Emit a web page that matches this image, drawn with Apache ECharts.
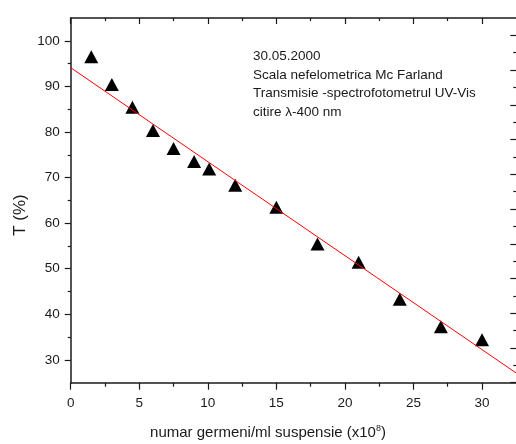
<!DOCTYPE html>
<html>
<head>
<meta charset="utf-8">
<script src="https://cdn.jsdelivr.net/npm/echarts@6/dist/echarts.min.js"></script>
<style>
html,body{margin:0;padding:0;background:#fff;}
#c{width:516px;height:444px;}
</style>
</head>
<body>
<div id="c"></div>
<script>
// ---- data ----
var cellCount = [1.5, 3, 4.5, 6, 7.5, 9, 10.1, 12, 15, 18, 21, 24, 27, 30];
var transmission = [96.5, 90.4, 85.4, 80.3, 76.4, 73.5, 71.9, 68.3, 63.5, 55.4, 51.4, 43.3, 37.3, 34.4];
var fitLine = [[0, 94.1], [32.5, 27.1]];
var xMajorTicks = [0, 5, 10, 15, 20, 25, 30];
var xMinorTicks = [2.5, 7.5, 12.5, 17.5, 22.5, 27.5];
var yMajorTicks = [30, 40, 50, 60, 70, 80, 90, 100];
var yMinorTicks = [35, 45, 55, 65, 75, 85, 95];
var rightMajorTicks = [0, 1, 2, 3, 4, 5, 6, 7, 8, 9, 10];
var rightMinorTicks = [0.5, 1.5, 2.5, 3.5, 4.5, 5.5, 6.5, 7.5, 8.5, 9.5];
var noteLines = ['30.05.2000', 'Scala nefelometrica Mc Farland', 'Transmisie -spectrofotometrul UV-Vis', 'citire \u03bb-400 nm'];
var xTitle = 'numar germeni/ml suspensie (x10';
var xTitleSup = '8';
var yTitle = 'T (%)';

var FONT = '"Liberation Sans", Arial, sans-serif';
var TXT = '#1a1a1a';
var AX = '#1a1a1a';

var pairs = cellCount.map(function (x, i) { return [x, transmission[i]]; });

function xAx(pos, ticks, len, inside, showLine, showLabels) {
  return {
    type: 'value', position: pos, min: 0, max: 32.5,
    axisLine: { show: showLine, onZero: false, lineStyle: { color: AX, width: 1.5 } },
    axisTick: { show: true, inside: inside, length: len, customValues: ticks, lineStyle: { color: AX, width: 1.2 } },
    axisLabel: { show: showLabels, customValues: ticks, margin: 14, color: TXT, fontSize: 13.5, fontFamily: FONT },
    splitLine: { show: false }
  };
}
function yAx(pos, min, max, ticks, len, inside, showLine, showLabels) {
  return {
    type: 'value', position: pos, min: min, max: max,
    axisLine: { show: showLine, onZero: false, lineStyle: { color: AX, width: 1.5 } },
    axisTick: { show: true, inside: inside, length: len, customValues: ticks, lineStyle: { color: AX, width: 1.2 } },
    axisLabel: { show: showLabels, customValues: ticks, margin: 11, color: TXT, fontSize: 13.5, fontFamily: FONT },
    splitLine: { show: false }
  };
}

var chart = echarts.init(document.getElementById('c'), null, { renderer: 'canvas' });
chart.setOption({
  animation: false,
  backgroundColor: '#fff',
  grid: { left: 70.7, top: 18, width: 445.6, height: 364.7, containLabel: false, outerBoundsMode: 'none' },
  xAxis: [
    xAx('bottom', xMajorTicks, 7, false, true, true),
    xAx('bottom', xMinorTicks, 4, false, false, false),
    xAx('top', xMajorTicks, 6, true, true, false),
    xAx('top', xMinorTicks, 3, true, false, false)
  ],
  yAxis: [
    yAx('left', 25, 105, yMajorTicks, 6, false, true, true),
    yAx('left', 25, 105, yMinorTicks, 3, false, false, false),
    yAx('right', 0, 10.5, rightMajorTicks, 6, true, false, false),
    yAx('right', 0, 10.5, rightMinorTicks, 3, true, false, false)
  ],
  series: [
    {
      type: 'scatter', xAxisIndex: 0, yAxisIndex: 0, data: pairs,
      symbol: 'triangle', symbolSize: [14, 13],
      itemStyle: { color: '#000', opacity: 1 }, z: 2
    },
    {
      type: 'line', xAxisIndex: 0, yAxisIndex: 0, data: fitLine,
      symbol: 'none', showSymbol: false,
      lineStyle: { color: '#ff0000', width: 1 }, z: 3, silent: true
    }
  ],
  graphic: [
    {
      type: 'text', left: 253, top: 47.5,
      style: { text: noteLines.join('\n'), fill: TXT, font: '13.5px ' + FONT, lineHeight: 18.5 }
    },
    {
      type: 'text', x: 268, y: 433,
      style: {
        text: '{a|' + xTitle + '}{s|' + xTitleSup + '}{a|)}',
        align: 'center', verticalAlign: 'middle',
        rich: {
          a: { fontSize: 15, fontFamily: FONT, fill: TXT, lineHeight: 18 },
          s: { fontSize: 9, fontFamily: FONT, fill: TXT, lineHeight: 18, verticalAlign: 'top', padding: [0, 0, 6, 0] }
        }
      }
    },
    {
      type: 'text', x: 20, y: 215, rotation: Math.PI / 2,
      style: { text: yTitle, align: 'center', verticalAlign: 'middle', fill: TXT, font: '17px ' + FONT }
    }
  ]
});
</script>
</body>
</html>
